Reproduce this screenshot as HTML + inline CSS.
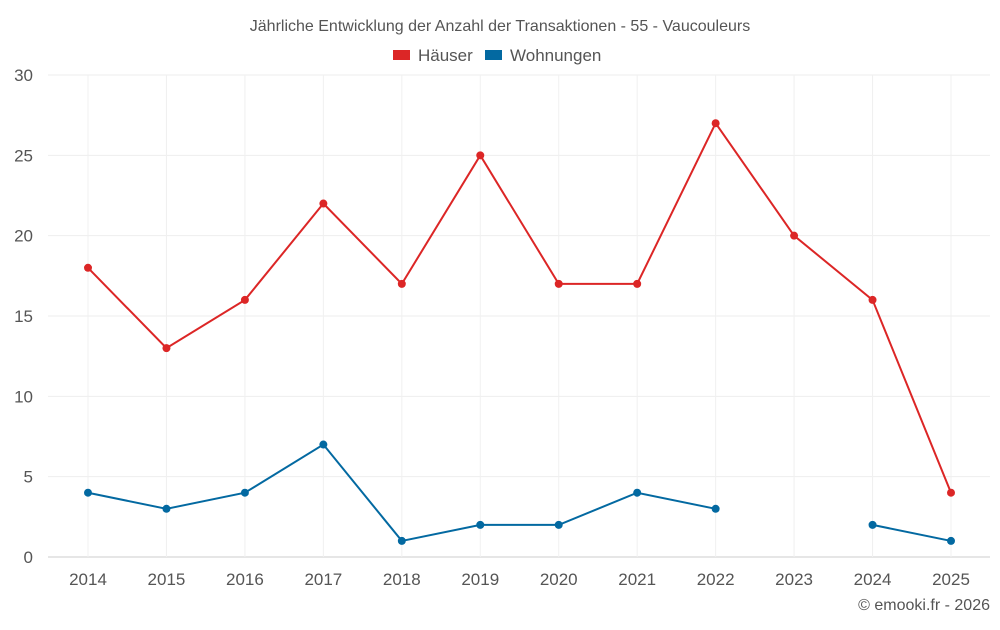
<!DOCTYPE html>
<html><head><meta charset="utf-8"><style>
body{margin:0;background:#fff;font-family:"Liberation Sans",sans-serif}
svg text{font-family:"Liberation Sans",sans-serif}
</style></head><body>
<svg id="c" width="1000" height="625">
<text x="500" y="31" text-anchor="middle" font-size="16" fill="#555">Jährliche Entwicklung der Anzahl der Transaktionen - 55 - Vaucouleurs</text>
<g><rect x="393" y="50" width="17" height="10" fill="#dc2626"/><text x="418" y="61" font-size="17" fill="#555">Häuser</text></g>
<g><rect x="485" y="50" width="17" height="10" fill="#0369a1"/><text x="510" y="61" font-size="17" fill="#555">Wohnungen</text></g>
<text x="990" y="610" text-anchor="end" font-size="16" fill="#555">© emooki.fr - 2026</text>
<g id="grid"></g><g id="marks"></g>
</svg>
<script>
const years=[2014,2015,2016,2017,2018,2019,2020,2021,2022,2023,2024,2025];
const haeuser=[18,13,16,22,17,25,17,17,27,20,16,4];
const wohnungen=[4,3,4,7,1,2,2,4,3,null,2,1];
const yTicks=[0,5,10,15,20,25,30];
const L=48,R=990,T=75,B=557;
const x=i=>88+i*(951-88)/(years.length-1);
const y=v=>B-(v/30)*(B-T);
const NS="http://www.w3.org/2000/svg";
const g=document.getElementById('grid'),m=document.getElementById('marks');
function mk(tag,a,p){const e=document.createElementNS(NS,tag);for(const k in a)e.setAttribute(k,a[k]);p.appendChild(e);return e;}
yTicks.forEach(t=>{
 const l=mk('line',{x1:L,x2:R,y1:y(t),y2:y(t),stroke:t===0?'#ccc':'#eee'},g);
 
 
 const tx=mk('text',{x:33,y:y(t)+6,'text-anchor':'end','font-size':17,fill:'#555'},g);tx.textContent=t;
 
 
});
years.forEach((yr,i)=>{
 const l=mk('line',{x1:x(i),x2:x(i),y1:T,y2:B,stroke:'#f0f0f0'},g);
 
 
 const tx=mk('text',{x:x(i),y:585,'text-anchor':'middle','font-size':17,fill:'#555'},g);tx.textContent=yr;
 
 
});
function series(vals,col,name){
 let d='',pen=false;
 vals.forEach((v,i)=>{if(v==null){pen=false;return;}d+=(pen?'L':'M')+x(i)+' '+y(v)+' ';pen=true;});
 const p=mk('path',{d:d,fill:'none',stroke:col,'stroke-width':2},m);
 
 
 vals.forEach((v,i)=>{if(v==null)return;
  const c=mk('circle',{cx:x(i),cy:y(v),r:4,fill:col},m);
  
  
 });
}
series(haeuser,'#dc2626','haeuser');
series(wohnungen,'#0369a1','wohnungen');
</script>
</body></html>
